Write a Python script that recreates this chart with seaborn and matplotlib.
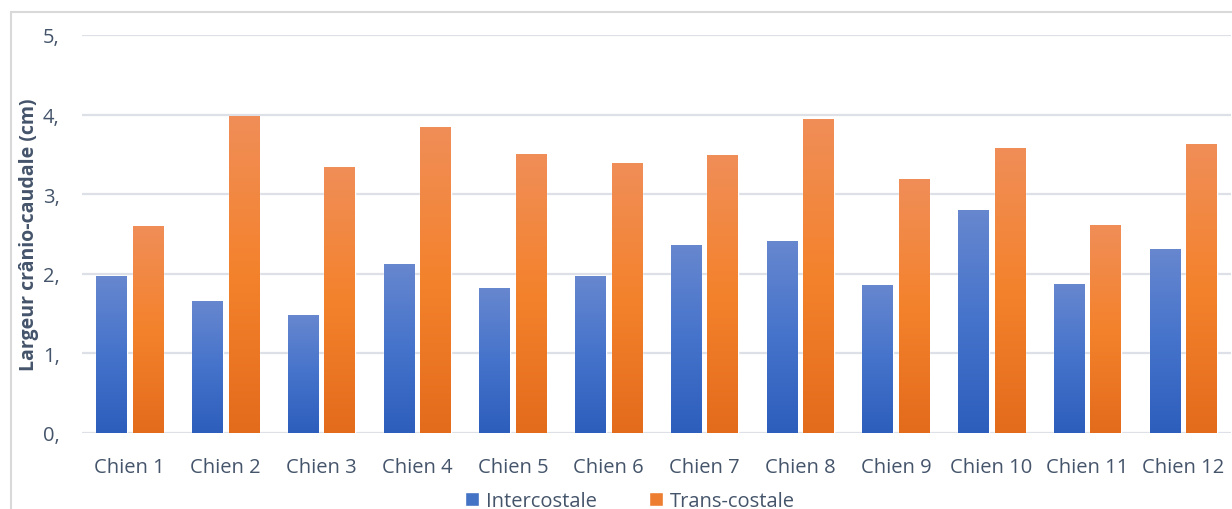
import numpy as np
import pandas as pd
import matplotlib
matplotlib.use('Agg')
import matplotlib.pyplot as plt
from matplotlib.colors import LinearSegmentedColormap
from matplotlib.patches import Rectangle, Patch
from matplotlib.ticker import FuncFormatter
import seaborn as sns

chiens = ['Chien 1', 'Chien 2', 'Chien 3', 'Chien 4', 'Chien 5', 'Chien 6',
          'Chien 7', 'Chien 8', 'Chien 9', 'Chien 10', 'Chien 11', 'Chien 12']
intercostale = [1.97, 1.65, 1.48, 2.12, 1.82, 1.96, 2.36, 2.40, 1.85, 2.80, 1.87, 2.30]
trans_costale = [2.59, 3.97, 3.34, 3.84, 3.50, 3.39, 3.49, 3.94, 3.19, 3.58, 2.61, 3.62]
series = ['Intercostale', 'Trans-costale']

df = pd.DataFrame({
    'chien': chiens + chiens,
    'serie': [series[0]] * len(chiens) + [series[1]] * len(chiens),
    'largeur': intercostale + trans_costale,
})

txt = '#44546A'
grid_col = '#DDE1E7'
base = {'Intercostale': '#4472C4', 'Trans-costale': '#ED7D31'}
cmaps = {
    'Intercostale': LinearSegmentedColormap.from_list('b', ['#2D5EBC', '#4573CB', '#6787CF']),
    'Trans-costale': LinearSegmentedColormap.from_list('o', ['#E36B1C', '#F4822C', '#F08E58']),
}

sns.set_style('white')
plt.rcParams['font.family'] = ['Open Sans', 'DejaVu Sans']
fs = 14.5

fig = plt.figure(figsize=(12.32, 5.10), dpi=100)
ax = fig.add_axes([82 / 1232, 1 - 434 / 510, 1149 / 1232, 398 / 510])

sns.barplot(data=df, x='chien', y='largeur', hue='serie', palette=base,
            width=0.76, gap=0.165, legend=False, ax=ax, zorder=2)

# gradient fill like the Office bars
grad = np.linspace(0, 1, 256).reshape(-1, 1)
for cont, level in zip(ax.containers, series):
    for bar in cont:
        x, w, h = bar.get_x(), bar.get_width(), bar.get_height()
        ax.imshow(grad, extent=[x, x + w, 0, h], origin='lower', aspect='auto',
                  cmap=cmaps[level], zorder=3)

ax.set_xlim(-0.5, 11.5)
ax.set_ylim(0, 5)
ax.set_yticks([0, 1, 2, 3, 4, 5])
ax.yaxis.set_major_formatter(FuncFormatter(lambda v, p: f'{int(v)},'))
ax.grid(axis='y', color=grid_col, lw=1.6, zorder=0)
ax.set_axisbelow(True)
for s in ax.spines.values():
    s.set_visible(False)
ax.tick_params(axis='both', length=0, labelsize=fs, colors=txt)
ax.tick_params(axis='y', pad=16)
ax.tick_params(axis='x', pad=17)
ax.set_xlabel('')
ax.set_ylabel('Largeur crânio-caudale (cm)', fontsize=14, fontweight='bold', color=txt)
ax.yaxis.set_label_coords(-0.037, 0.5)

fig.add_artist(Rectangle((11 / 1232, -0.1), 1.5, 1 - 13 / 510 + 0.1,
                         transform=fig.transFigure, fill=False,
                         edgecolor='#D9D9D9', lw=1.5))

handles = [Patch(facecolor=base[s]) for s in series]
fig.legend(handles, series, loc='center', bbox_to_anchor=(630 / 1232, 1 - 502 / 510),
           ncol=2, frameon=False, handlelength=0.7, handleheight=0.7,
           handletextpad=0.35, columnspacing=2.6, fontsize=fs, labelcolor=txt)

fig.savefig('out.png', dpi=100)
